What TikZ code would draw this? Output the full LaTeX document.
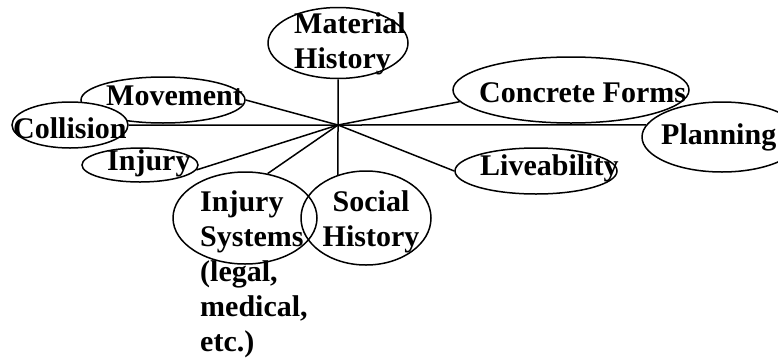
\documentclass[tikz,border=0pt]{standalone}
\usepackage{fontspec}
\setmainfont{Liberation Serif}
\usetikzlibrary{shapes.geometric}
\begin{document}
\begin{tikzpicture}[x=1pt,y=-1pt,
  bubble/.style={ellipse, draw, line width=1.5pt, inner sep=0pt},
  conn/.style={line width=1.5pt},
  lbl/.style={inner sep=0pt, anchor=base west, font=\fontsize{30}{35}\selectfont\bfseries}]
\useasboundingbox (0,0) rectangle (778,359);
\fill[white] (0,0) rectangle (778,359);
\coordinate (hub) at (338,125);
% ellipses
\node[bubble, minimum width=164pt, minimum height=46pt] (mov) at (163,100) {};
\node[bubble, fill=white, minimum width=116pt, minimum height=46pt] (col) at (70,125) {};
\node[bubble, minimum width=116pt, minimum height=34pt] (inj) at (140,165) {};
\node[bubble, minimum width=144pt, minimum height=92pt] (isys) at (245,218) {};
\node[bubble, minimum width=130pt, minimum height=94pt] (soc) at (366,218) {};
\node[bubble, minimum width=236pt, minimum height=66pt] (con) at (571,90) {};
\node[bubble, minimum width=160pt, minimum height=70pt] (pla) at (722,137) {};
\node[bubble, minimum width=162pt, minimum height=46pt] (liv) at (536,171) {};
\node[bubble, minimum width=140pt, minimum height=71pt] (mat) at (338,43) {};
% connectors
\draw[conn] (mat.south) -- (hub) -- (soc.123);
\draw[conn] (col.east) -- (hub) -- (pla.171);
\draw[conn] (hub) -- (mov.east);
\draw[conn] (hub) -- (inj.-5);
\draw[conn] (hub) -- (isys.63);
\draw[conn] (hub) -- (con.186);
\draw[conn] (hub) -- (liv.west);
% labels
\node[lbl] (tmat) at (294,33) {\begin{tabular}[t]{@{}l@{}}Material\\History\end{tabular}};
\node[lbl] (tmov) at (106,105) {Movement};
\node[lbl] (tcol) at (13,138) {Collision};
\node[lbl] (tinj) at (107,170) {Injury};
\node[lbl] (tisys) at (200,211) {\begin{tabular}[t]{@{}l@{}}Injury\\Systems\\(legal,\\medical,\\etc.)\end{tabular}};
\node[lbl, anchor=base] (tsoc) at (371,211) {\begin{tabular}[t]{@{}c@{}}Social\\History\end{tabular}};
\node[lbl] (tcon) at (479,102) {Concrete Forms};
\node[lbl] (tpla) at (661,144) {Planning};
\node[lbl] (tliv) at (480,175) {Liveability};
\end{tikzpicture}
\end{document}
